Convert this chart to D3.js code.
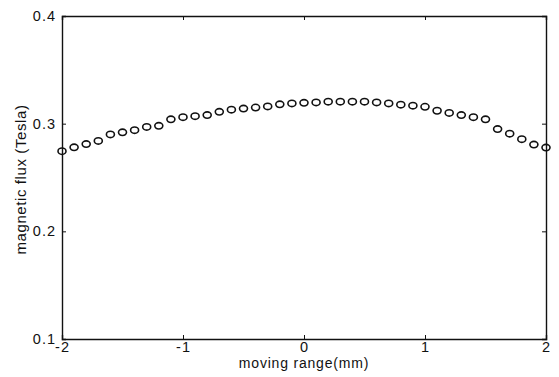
<!DOCTYPE html>
<html>
<head>
<meta charset="utf-8">
<script src="https://cdn.jsdelivr.net/npm/d3@7"></script>
<style>
  body { margin: 0; background: #fff; }
  text { font-family: "Liberation Sans", Arial, sans-serif; fill: #111; }
</style>
</head>
<body>
<div id="chart"></div>
<script>
// moving range (mm), step 0.1
const positions = d3.range(41).map(i => Math.round((-2 + i * 0.1) * 10) / 10);
// magnetic flux (Tesla)
const flux = [
  0.2744, 0.2780, 0.2810, 0.2840, 0.2900, 0.2920, 0.2940, 0.2970, 0.2980, 0.3040,
  0.3060, 0.3070, 0.3080, 0.3110, 0.3130, 0.3140, 0.3150, 0.3160, 0.3180, 0.3188,
  0.3194, 0.3197, 0.3204, 0.3204, 0.3204, 0.3204, 0.3197, 0.3188, 0.3176, 0.3167,
  0.3157, 0.3120, 0.3100, 0.3080, 0.3060, 0.3040, 0.2950, 0.2907, 0.2856, 0.2806,
  0.2778
];
const xTicks = [-2, -1, 0, 1, 2];
const yTicks = [0.1, 0.2, 0.3, 0.4];

const W = 559, H = 377;
const margin = {top: 16, right: 13, bottom: 38, left: 62};
const width = W - margin.left - margin.right;
const height = H - margin.top - margin.bottom;

const svg = d3.select("#chart").append("svg")
    .attr("width", W)
    .attr("height", H);

const g = svg.append("g")
    .attr("transform", "translate(" + margin.left + "," + margin.top + ")");

const x = d3.scaleLinear().domain([-2, 2]).range([0, width]);
const y = d3.scaleLinear().domain([0.1, 0.4]).range([height, 0]);

// axes with inward ticks, MATLAB style
const axBottom = g.append("g")
    .attr("transform", "translate(0," + height + ")")
    .call(d3.axisBottom(x).tickValues(xTicks).tickSize(-4).tickPadding(3).tickFormat(d => String(d)));
const axTop = g.append("g")
    .call(d3.axisTop(x).tickValues(xTicks).tickSize(-4).tickFormat(""));
const axLeft = g.append("g")
    .call(d3.axisLeft(y).tickValues(yTicks).tickSize(-4).tickPadding(6).tickFormat(d3.format(".1f")));
const axRight = g.append("g")
    .attr("transform", "translate(" + width + ",0)")
    .call(d3.axisRight(y).tickValues(yTicks).tickSize(-4).tickFormat(""));

[axBottom, axTop, axLeft, axRight].forEach(a => {
    a.select(".domain").attr("stroke", "#111").attr("stroke-width", 1.4);
    a.selectAll(".tick line").attr("stroke", "#111").attr("stroke-width", 1);
    a.selectAll(".tick text")
        .attr("font-size", 14.5)
        .attr("letter-spacing", 1)
        .style("fill", "#111");
});

// data points
g.selectAll(".pt")
    .data(positions)
    .enter()
    .append("ellipse")
    .attr("class", "pt")
    .attr("cx", d => x(d))
    .attr("cy", (d, i) => y(flux[i]))
    .attr("rx", 4)
    .attr("ry", 3.2)
    .attr("fill", "none")
    .attr("stroke", "#111")
    .attr("stroke-width", 1.6);

// axis titles
svg.append("text")
    .attr("x", margin.left + width / 2)
    .attr("y", 368)
    .attr("text-anchor", "middle")
    .attr("font-size", 14)
    .attr("letter-spacing", 0.8)
    .text("moving range(mm)");

svg.append("text")
    .attr("transform", "translate(26," + (margin.top + height / 2 + 2) + ") rotate(-90)")
    .attr("text-anchor", "middle")
    .attr("font-size", 15)
    .attr("letter-spacing", 0.6)
    .text("magnetic flux (Tesla)");
</script>
</body>
</html>
